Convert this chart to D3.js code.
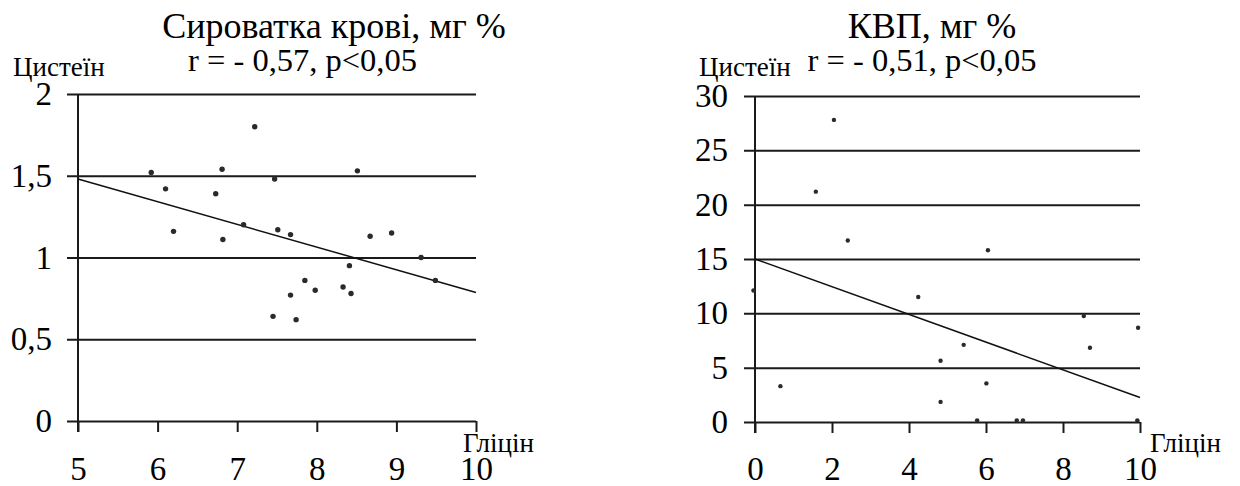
<!DOCTYPE html>
<html>
<head>
<meta charset="utf-8">
<script src="https://cdn.jsdelivr.net/npm/d3@7"></script>
<style>
  html, body { margin: 0; padding: 0; background: #fff; }
  .serif { font-family: "Liberation Serif", serif !important; }
</style>
</head>
<body>
<svg id="chart" width="1240" height="486"></svg>
<script>
// ---------- data: left chart (Сироватка крові) ----------
const leftTitle1 = "Сироватка крові, мг %";
const leftTitle2 = "r = - 0,57, p<0,05";
const leftX = [5.92, 6.10, 6.20, 6.81, 6.73, 6.82, 7.22, 7.47, 7.08, 7.51, 7.67, 8.51,
               8.67, 8.94, 9.31, 8.41, 7.85, 7.67, 7.98, 8.33, 8.43, 7.45, 7.74, 9.49];
const leftY = [1.52, 1.42, 1.16, 1.54, 1.39, 1.11, 1.80, 1.48, 1.20, 1.17, 1.14, 1.53,
               1.13, 1.15, 1.00, 0.95, 0.86, 0.77, 0.80, 0.82, 0.78, 0.64, 0.62, 0.86];
const leftTrendX = [5, 10];
const leftTrendY = [1.48, 0.786];
const leftXTicks = [5, 6, 7, 8, 9, 10];
const leftXTickLabels = ["5", "6", "7", "8", "9", "10"];
const leftYTicks = [0, 0.5, 1, 1.5, 2];
const leftYTickLabels = ["0", "0,5", "1", "1,5", "2"];

// ---------- data: right chart (КВП) ----------
const rightTitle1 = "КВП, мг %";
const rightTitle2 = "r = - 0,51, p<0,05";
const rightX = [2.05, 1.58, 2.41, 6.05, -0.04, 4.24, 8.54, 9.95, 5.42, 4.82, 8.70, 0.66,
                6.01, 4.82, 5.77, 6.80, 6.96, 9.93];
const rightY = [27.8, 21.2, 16.7, 15.8, 12.1, 11.5, 9.76, 8.68, 7.1, 5.63, 6.83, 3.3,
                3.55, 1.85, 0.15, 0.15, 0.15, 0.15];
const rightTrendX = [0, 10];
const rightTrendY = [15, 2.25];
const rightXTicks = [0, 2, 4, 6, 8, 10];
const rightXTickLabels = ["0", "2", "4", "6", "8", "10"];
const rightYTicks = [0, 5, 10, 15, 20, 25, 30];
const rightYTickLabels = ["0", "5", "10", "15", "20", "25", "30"];

const yAxisName = "Цистеїн";
const xAxisName = "Гліцін";

const svg = d3.select("#chart");

function serif(sel, size) {
  return sel
    .attr("class", "serif")
    .attr("font-family", "Liberation Serif")
    .style("font-family", '"Liberation Serif"')
    .style("font-size", size + "px");
}

function drawPanel(cfg) {
  const { px0, px1, pyTop, pyBottom } = cfg;
  const x = d3.scaleLinear().domain(cfg.xDomain).range([px0, px1]);
  const y = d3.scaleLinear().domain(cfg.yDomain).range([pyBottom, pyTop]);
  const tick = 11;

  // y axis with gridlines
  const gy = svg.append("g").attr("transform", `translate(${px0},0)`)
    .call(d3.axisLeft(y)
      .tickValues(cfg.yTicks)
      .tickFormat((d, i) => cfg.yTickLabels[i])
      .tickSize(tick).tickPadding(cfg.yPad));
  gy.select(".domain").remove();
  gy.selectAll(".tick line")
    .attr("x1", px1 - px0)
    .attr("stroke", "#1a1a1a").attr("stroke-width", 2);
  serif(gy.selectAll(".tick text").attr("fill", "#000"), 33);

  // x axis
  const gx = svg.append("g").attr("transform", `translate(0,${pyBottom})`)
    .call(d3.axisBottom(x)
      .tickValues(cfg.xTicks)
      .tickFormat((d, i) => cfg.xTickLabels[i])
      .tickSize(tick));
  gx.select(".domain").remove();
  gx.selectAll(".tick line").attr("stroke", "#1a1a1a").attr("stroke-width", 2);
  serif(gx.selectAll(".tick text")
    .attr("y", 480 - pyBottom).attr("dy", 0)
    .attr("fill", "#000"), 33);

  // vertical axis line
  svg.append("line")
    .attr("x1", px0).attr("x2", px0)
    .attr("y1", pyTop).attr("y2", pyBottom + tick)
    .attr("stroke", "#1a1a1a").attr("stroke-width", 2);

  // trend line
  svg.append("line")
    .attr("x1", x(cfg.trendX[0])).attr("y1", y(cfg.trendY[0]))
    .attr("x2", x(cfg.trendX[1])).attr("y2", y(cfg.trendY[1]))
    .attr("stroke", "#111").attr("stroke-width", 1.5);

  // points
  svg.append("g").selectAll("circle")
    .data(cfg.xs.map((v, i) => [v, cfg.ys[i]]))
    .join("circle")
    .attr("cx", d => x(d[0])).attr("cy", d => y(d[1]))
    .attr("r", cfg.r).attr("fill", "#2a2a2a");

  // titles
  serif(svg.append("text").attr("x", cfg.t1x).attr("y", 38)
    .attr("text-anchor", "middle"), 36).text(cfg.title1);
  serif(svg.append("text").attr("x", cfg.t2x).attr("y", 71)
    .attr("text-anchor", "middle"), 32.5).text(cfg.title2);

  // axis names
  serif(svg.append("text").attr("x", cfg.yNameX).attr("y", 76), 27).text(yAxisName);
  serif(svg.append("text").attr("x", cfg.xNameX).attr("y", 452), 27).text(xAxisName);
}

drawPanel({
  px0: 78, px1: 476, pyTop: 94, pyBottom: 421,
  xDomain: [5, 10], yDomain: [0, 2],
  xTicks: leftXTicks, xTickLabels: leftXTickLabels,
  yTicks: leftYTicks, yTickLabels: leftYTickLabels,
  xs: leftX, ys: leftY, trendX: leftTrendX, trendY: leftTrendY,
  r: 2.7, title1: leftTitle1, title2: leftTitle2, t1x: 334, t2x: 302.5,
  yNameX: 13, xNameX: 463, yPad: 15
});

drawPanel({
  px0: 755, px1: 1140, pyTop: 96, pyBottom: 422,
  xDomain: [0, 10], yDomain: [0, 30],
  xTicks: rightXTicks, xTickLabels: rightXTickLabels,
  yTicks: rightYTicks, yTickLabels: rightYTickLabels,
  xs: rightX, ys: rightY, trendX: rightTrendX, trendY: rightTrendY,
  r: 2.2, title1: rightTitle1, title2: rightTitle2, t1x: 932, t2x: 922,
  yNameX: 699, xNameX: 1150, yPad: 16
});
</script>
</body>
</html>
